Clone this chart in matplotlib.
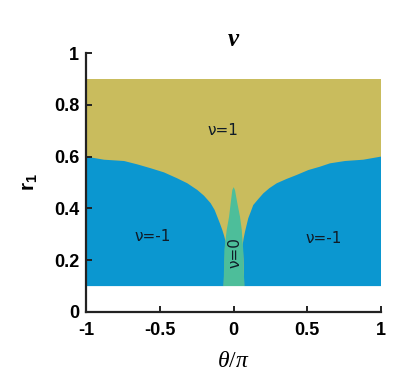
import matplotlib
matplotlib.use("Agg")
import matplotlib.pyplot as plt

# ---- data ----
theta_range = [-1.0, 1.0]
r_range = [0.1, 0.9]

# boundary between nu=-1 (blue, below) and nu=1 (olive, above), left lobe
left_theta = [-1.0, -0.878, -0.742, -0.652, -0.561, -0.471, -0.381, -0.313, -0.245,
              -0.200, -0.155, -0.128, -0.110, -0.092, -0.076, -0.064, -0.053, -0.060, -0.067]
left_r     = [0.600, 0.588, 0.583, 0.570, 0.555, 0.539, 0.516, 0.497, 0.471,
              0.449, 0.420, 0.394, 0.368, 0.342, 0.317, 0.295, 0.271, 0.200, 0.100]

# right lobe
right_theta = [1.0, 0.880, 0.756, 0.654, 0.586, 0.507, 0.428, 0.361, 0.293, 0.243,
               0.202, 0.168, 0.134, 0.117, 0.100, 0.089, 0.078, 0.069, 0.062, 0.068, 0.073]
right_r     = [0.600, 0.588, 0.583, 0.574, 0.561, 0.548, 0.529, 0.514, 0.497, 0.478,
               0.458, 0.436, 0.413, 0.387, 0.362, 0.336, 0.310, 0.285, 0.259, 0.200, 0.100]

# nu=0 (green) spike: left and right edges vs r
spike_r       = [0.100, 0.240, 0.317, 0.368, 0.420, 0.471, 0.482]
spike_left    = [-0.067, -0.062, -0.046, -0.030, -0.019, -0.008, 0.001]
spike_right   = [0.073, 0.066, 0.056, 0.044, 0.026, 0.010, 0.001]

# thin blue sliver at the left edge
sliver_theta = [-1.0, -0.99]
sliver_r = [0.6, 0.79]

region_labels = ["ν=1", "ν=-1", "ν=-1", "ν=0"]
region_x = [-0.07, -0.55, 0.61, 0.01]
region_y = [0.70, 0.29, 0.285, 0.23]
region_rot = [0, 0, 0, 90]

xticks = [-1, -0.5, 0, 0.5, 1]
xticklabels = ["-1", "-0.5", "0", "0.5", "1"]
yticks = [0, 0.2, 0.4, 0.6, 0.8, 1]
yticklabels = ["0", "0.2", "0.4", "0.6", "0.8", "1"]

olive = "#C9BC5D"
blue = "#0B97D0"
green = "#4DBE9A"

plt.rcParams["mathtext.fontset"] = "custom"
plt.rcParams["mathtext.rm"] = "Liberation Serif"
plt.rcParams["mathtext.it"] = "Liberation Serif:italic"
plt.rcParams["mathtext.bf"] = "Liberation Sans:bold"

fig = plt.figure(figsize=(4.16, 3.79), dpi=100)
ax = fig.add_axes([86/416, 1-312/379, (381-86)/416, (312-53)/379])

# olive background rectangle
ax.fill_between(theta_range, r_range[0], r_range[1], color=olive, lw=0)

# left blue lobe
lx = left_theta + [left_theta[-1], left_theta[0]]
ly = left_r + [r_range[0], r_range[0]]
ax.fill(lx, ly, color=blue, lw=0)
# right blue lobe
rx = right_theta + [right_theta[-1], right_theta[0]]
ry = right_r + [r_range[0], r_range[0]]
ax.fill(rx, ry, color=blue, lw=0)
# sliver
ax.fill_between(sliver_theta, sliver_r[0], sliver_r[1], color=blue, lw=0)

# green spike
gx = spike_left + spike_right[::-1]
gy = spike_r + spike_r[::-1]
ax.fill(gx, gy, color=green, lw=0)

for t, x, y, rot in zip(region_labels, region_x, region_y, region_rot):
    ax.text(x, y, t, ha="center", va="center", rotation=rot, fontsize=11,
            color="#101c28", family="DejaVu Sans")

ax.set_xlim(-1, 1)
ax.set_ylim(0, 1)
ax.set_xticks(xticks)
ax.set_xticklabels(xticklabels)
ax.set_yticks(yticks)
ax.set_yticklabels(yticklabels)
for lab in ax.get_xticklabels() + ax.get_yticklabels():
    lab.set_fontweight("bold")
    lab.set_family("Liberation Sans")
    lab.set_fontsize(13)

for s in ["top", "right"]:
    ax.spines[s].set_visible(False)
for s in ["left", "bottom"]:
    ax.spines[s].set_linewidth(1.6)
    ax.spines[s].set_color("#222222")
ax.tick_params(direction="in", length=4, width=1.4, color="#222222")
ax.tick_params(axis="x", pad=7)
ax.tick_params(axis="y", pad=5)

ax.set_title("ν", fontsize=18, pad=5, family="Liberation Serif",
             style="italic", fontweight="bold")
ax.set_xlabel(r"$\theta/\pi$", fontsize=17, labelpad=7)
ax.set_ylabel(r"$\mathbf{r_1}$", fontsize=15, labelpad=10)

fig.savefig("out.png", dpi=100, facecolor="white")
